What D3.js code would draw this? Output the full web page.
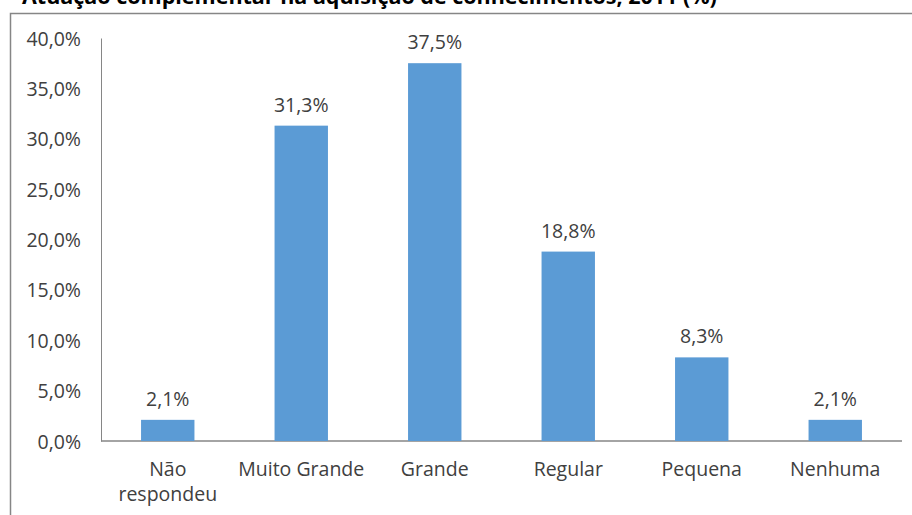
<!DOCTYPE html>
<html>
<head>
<meta charset="utf-8">
<script src="https://cdn.jsdelivr.net/npm/d3@7"></script>
<style>
  html, body { margin: 0; padding: 0; background: #fff; }
  svg { display: block; }
</style>
</head>
<body>
<svg id="chart" width="912" height="515"></svg>
<script>
const titleText = "Atuação complementar na aquisição de conhecimentos, 2011 (%)";
const categories = ["Não\nrespondeu", "Muito Grande", "Grande", "Regular", "Pequena", "Nenhuma"];
const values = [2.1, 31.3, 37.5, 18.8, 8.3, 2.1];
const yTicks = [0, 5, 10, 15, 20, 25, 30, 35, 40];

const W = 912, H = 515;
const fontFamily = "'Open Sans', 'Noto Sans', sans-serif";
const textColor = "#404040";
const fs = 19.5;
const fmt = v => d3.format(".1f")(v).replace(".", ",") + "%";

const svg = d3.select("#chart");

// title (partially cut off at top, like the reference)
svg.append("text")
  .attr("x", 22).attr("y", 4)
  .attr("font-family", fontFamily)
  .attr("font-weight", "bold")
  .attr("font-size", 21.5)
  .attr("fill", "#000")
  .text(titleText);

// chart frame
svg.append("rect")
  .attr("x", 10.5).attr("y", 13.5)
  .attr("width", W + 20).attr("height", H + 20)
  .attr("fill", "none")
  .attr("stroke", "#868686")
  .attr("stroke-width", 1.5);

const x = d3.scaleBand()
  .domain(categories)
  .range([101, 902])
  .paddingInner(0.6)
  .paddingOuter(0.3);

const y = d3.scaleLinear()
  .domain([0, 40])
  .range([441, 38]);

// y axis
const yAxis = d3.axisLeft(y)
  .tickValues(yTicks)
  .tickSize(0)
  .tickPadding(20)
  .tickFormat(fmt);

const gy = svg.append("g")
  .attr("transform", "translate(101,0)")
  .call(yAxis);
gy.select(".domain").attr("stroke", "#868686").attr("stroke-width", 1);
gy.selectAll(".tick text")
  .attr("font-family", fontFamily)
  .attr("font-size", fs)
  .attr("fill", textColor)
  .attr("dy", "0.36em");

// x axis
const xAxis = d3.axisBottom(x).tickSize(0).tickPadding(0).tickFormat("");
const gx = svg.append("g")
  .attr("transform", "translate(0,441)")
  .call(xAxis);
gx.select(".domain").attr("stroke", "#868686").attr("stroke-width", 1.5)
  .attr("d", "M101,0H902");

gx.selectAll(".tick").each(function(d) {
  const lines = d.split("\n");
  const t = d3.select(this).append("text")
    .attr("text-anchor", "middle")
    .attr("font-family", fontFamily)
    .attr("font-size", fs)
    .attr("fill", textColor);
  lines.forEach((ln, i) => {
    t.append("tspan").attr("x", 0).attr("y", 35 + i * 25).text(ln);
  });
});

// bars
svg.append("g").selectAll("rect")
  .data(values)
  .join("rect")
  .attr("x", (d, i) => x(categories[i]))
  .attr("y", d => y(d))
  .attr("width", x.bandwidth())
  .attr("height", d => y(0) - y(d))
  .attr("fill", "#5b9bd5");

// data labels
svg.append("g").selectAll("text")
  .data(values)
  .join("text")
  .attr("x", (d, i) => x(categories[i]) + x.bandwidth() / 2)
  .attr("y", d => y(d) - 14)
  .attr("text-anchor", "middle")
  .attr("font-family", fontFamily)
  .attr("font-size", fs)
  .attr("fill", textColor)
  .text(fmt);
</script>
</body>
</html>
